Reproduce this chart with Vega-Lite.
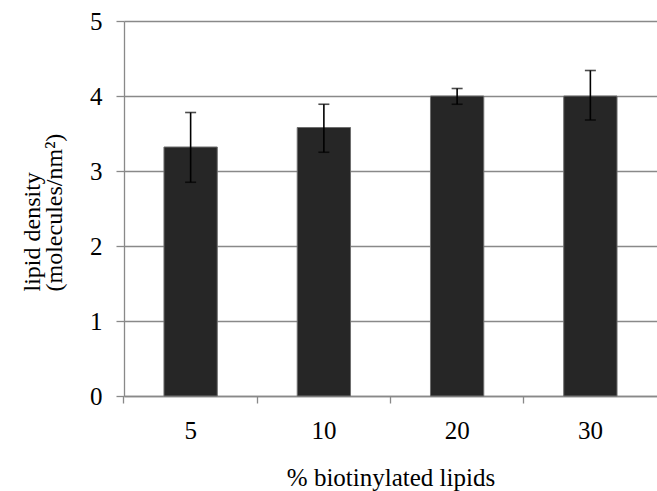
{
  "$schema": "https://vega.github.io/schema/vega-lite/v6.json",
  "width": 533,
  "height": 375,
  "autosize": "none",
  "padding": {"left": 124, "top": 21, "right": 0, "bottom": 95},
  "background": "white",
  "config": {
    "view": {"stroke": null},
    "font": "Liberation Serif",
    "axis": {
      "labelFont": "Liberation Serif",
      "titleFont": "Liberation Serif",
      "labelColor": "black",
      "titleColor": "black",
      "titleFontWeight": "normal",
      "domainColor": "#898989",
      "tickColor": "#898989",
      "gridColor": "#898989",
      "domainWidth": 1.3,
      "tickWidth": 1.3,
      "gridWidth": 1.3
    }
  },
  "data": {
    "values": [
      {"pct": "5", "density": 3.32, "lo": 2.85, "hi": 3.78},
      {"pct": "10", "density": 3.58, "lo": 3.25, "hi": 3.89},
      {"pct": "20", "density": 4.0, "lo": 3.89, "hi": 4.1},
      {"pct": "30", "density": 4.0, "lo": 3.68, "hi": 4.34}
    ]
  },
  "encoding": {
    "x": {
      "field": "pct",
      "type": "nominal",
      "sort": null,
      "scale": {"paddingInner": 0.6, "paddingOuter": 0.3},
      "axis": {
        "title": "% biotinylated lipids",
        "labelAngle": 0,
        "labelFontSize": 25,
        "titleFontSize": 25,
        "labelBaseline": "alphabetic",
        "labelPadding": 35,
        "tickSize": 7,
        "bandPosition": -0.75,
        "titleBaseline": "alphabetic",
        "titleY": 89,
        "titleX": 266.5,
        "grid": false
      }
    }
  },
  "layer": [
    {
      "mark": {"type": "bar", "color": "#262626", "stroke": "#6e6e6e", "strokeWidth": 1},
      "encoding": {
        "y": {
          "field": "density",
          "type": "quantitative",
          "scale": {"domain": [0, 5], "nice": false},
          "axis": {
            "title": ["lipid density", "(molecules/nm²)"],
            "values": [0, 1, 2, 3, 4, 5],
            "format": "d",
            "labelFontSize": 25,
            "titleFontSize": 24,
            "titleLineHeight": 22,
            "labelPadding": 14,
            "tickSize": 8,
            "grid": true,
            "titleAngle": -90,
            "titleAlign": "left",
            "titleBaseline": "alphabetic",
            "titleX": -85,
            "titleY": 270
          }
        }
      }
    },
    {
      "mark": {"type": "rule", "color": "black", "strokeWidth": 1.6},
      "encoding": {
        "y": {"field": "lo", "type": "quantitative"},
        "y2": {"field": "hi"}
      }
    },
    {
      "mark": {"type": "tick", "color": "black", "size": 11, "thickness": 1.6, "orient": "horizontal"},
      "encoding": {"y": {"field": "lo", "type": "quantitative"}}
    },
    {
      "mark": {"type": "tick", "color": "black", "size": 11, "thickness": 1.6, "orient": "horizontal"},
      "encoding": {"y": {"field": "hi", "type": "quantitative"}}
    }
  ]
}
